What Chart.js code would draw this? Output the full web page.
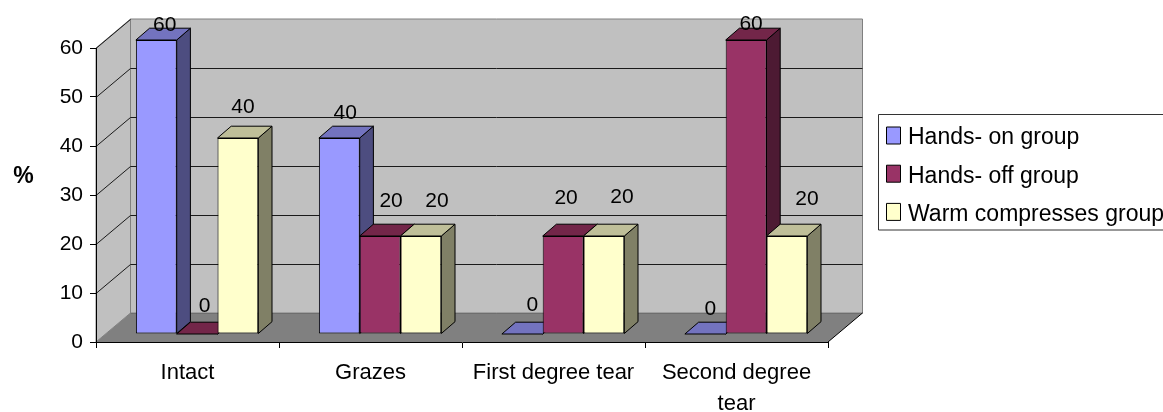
<!DOCTYPE html>
<html>
<head>
<meta charset="utf-8">
<style>
  html, body { margin: 0; padding: 0; background: #fff; overflow: hidden; }
  canvas { display: block; }
</style>
<script src="https://cdn.jsdelivr.net/npm/chart.js@4"></script>
</head>
<body>
<canvas id="tearChart" width="1163" height="412"></canvas>
<script>
const categories = ['Intact', 'Grazes', 'First degree tear', ['Second degree', 'tear']];
const seriesNames = ['Hands- on group', 'Hands- off group', 'Warm compresses group'];
const handsOn = [60, 40, 0, 0];
const handsOff = [0, 20, 20, 60];
const warmCompresses = [40, 20, 20, 20];
const yTicks = [0, 10, 20, 30, 40, 50, 60];

const FONT = '"Liberation Sans", Arial, sans-serif';

// front, side and top colours of each series
const faces = [
  { front: '#9999FF', side: '#4D4D80', top: '#7373BF' },
  { front: '#993366', side: '#4D1A33', top: '#732649' },
  { front: '#FFFFCC', side: '#808066', top: '#BFBF99' }
];

// the chart walls sit this far behind the axes, the bars part of the way
const wallDepth = { x: 34.5, y: -29 };
const barOffset = { x: 9.6, y: -8 };
const barDepth = { x: 13.7, y: -11.8 };

// the value labels were hand placed in the original, offset from each bar's centre and top
const labelNudge = [
  [[8.5, -15], [6, -25], [10, -29], [5, -25]],
  [[7.5, -28], [11, -35], [3, -38], [5, -16]],
  [[5, -31], [16, -35], [18, -39], [20, -37]]
];

function poly(ctx, pts, fill, stroke) {
  ctx.beginPath();
  pts.forEach((p, i) => i ? ctx.lineTo(p[0], p[1]) : ctx.moveTo(p[0], p[1]));
  ctx.closePath();
  if (fill) { ctx.fillStyle = fill; ctx.fill(); }
  if (stroke) { ctx.strokeStyle = stroke; ctx.lineWidth = 1; ctx.stroke(); }
}

const box3d = {
  id: 'box3d',
  // side walls, floor and gridlines go under everything
  beforeDraw(chart) {
    const { ctx, chartArea: a, scales } = chart;
    const dx = wallDepth.x, dy = wallDepth.y;
    ctx.save();
    poly(ctx, [[a.left + dx, a.top + dy], [a.right + dx, a.top + dy], [a.right + dx, a.bottom + dy], [a.left + dx, a.bottom + dy]], '#C0C0C0', '#808080');
    poly(ctx, [[a.left, a.top], [a.left + dx, a.top + dy], [a.left + dx, a.bottom + dy], [a.left, a.bottom]], '#C0C0C0', '#808080');
    poly(ctx, [[a.left, a.bottom], [a.left + dx, a.bottom + dy], [a.right + dx, a.bottom + dy], [a.right, a.bottom]], '#808080', null);
    ctx.strokeStyle = '#6E6E6E';
    ctx.beginPath();
    ctx.moveTo(a.left + dx, a.bottom + dy + 0.5);
    ctx.lineTo(a.right + dx, a.bottom + dy + 0.5);
    ctx.stroke();
    ctx.strokeStyle = '#000';
    ctx.beginPath();
    ctx.moveTo(a.right, a.bottom);
    ctx.lineTo(a.right + dx, a.bottom + dy);
    ctx.stroke();
    ctx.strokeStyle = '#1A1A1A';
    yTicks.forEach(v => {
      const y = Math.round(scales.y.getPixelForValue(v)) + 0.5;
      if (v === yTicks[0]) return;
      ctx.beginPath();
      ctx.moveTo(a.left, y);
      ctx.lineTo(a.left + dx, y + dy);
      if (v !== yTicks[yTicks.length - 1]) ctx.lineTo(a.right + dx, y + dy);
      ctx.stroke();
    });
    ctx.restore();
  },
  // chart.js paints the first dataset last, here the bars have to overlap left to right
  beforeDatasetsDraw(chart) {
    const { ctx } = chart;
    const dx = barDepth.x, dy = barDepth.y;
    ctx.save();
    ctx.translate(barOffset.x, barOffset.y);
    chart.getSortedVisibleDatasetMetas().forEach(meta => {
      const c = faces[meta.index];
      meta.controller.draw();
      meta.data.forEach(bar => {
        const l = bar.x - bar.width / 2, r = bar.x + bar.width / 2;
        poly(ctx, [[r, bar.y], [r + dx, bar.y + dy], [r + dx, bar.base + dy], [r, bar.base]], c.side, '#000');
        poly(ctx, [[l, bar.y], [l + dx, bar.y + dy], [r + dx, bar.y + dy], [r, bar.y]], c.top, '#000');
      });
    });
    ctx.restore();
    return false;
  },
  afterDraw(chart) {
    const { ctx } = chart;

    // value labels
    ctx.save();
    ctx.fillStyle = '#000';
    ctx.font = '21px ' + FONT;
    ctx.textAlign = 'center';
    ctx.textBaseline = 'middle';
    chart.data.datasets.forEach((ds, i) => {
      chart.getDatasetMeta(i).data.forEach((bar, j) => {
        const n = labelNudge[i][j];
        ctx.fillText(String(ds.data[j]), bar.x + barOffset.x + n[0], bar.y + barOffset.y + n[1]);
      });
    });

    // axis title
    ctx.font = 'bold 23px ' + FONT;
    ctx.fillText('%', 23.5, 177);

    // legend, runs off the right of the picture like the original
    poly(ctx, [[878.5, 114.5], [1170, 114.5], [1170, 230], [878.5, 230]], '#fff', '#333');
    ctx.font = '23px ' + FONT;
    ctx.textAlign = 'left';
    chart.data.datasets.forEach((ds, i) => {
      const cy = 135.5 + i * 38.2;
      poly(ctx, [[886.5, cy - 8.5], [900.5, cy - 8.5], [900.5, cy + 8.5], [886.5, cy + 8.5]], faces[i].front, '#000');
      ctx.fillStyle = '#000';
      ctx.fillText(ds.label, 908, cy + 2.5);
    });
    ctx.restore();
  }
};

const seriesValues = [handsOn, handsOff, warmCompresses];

new Chart(document.getElementById('tearChart').getContext('2d'), {
  type: 'bar',
  data: {
    labels: categories,
    datasets: seriesNames.map((name, i) => ({
      label: name,
      data: seriesValues[i],
      backgroundColor: faces[i].front,
      borderColor: '#000',
      borderWidth: 1,
      borderSkipped: false
    }))
  },
  options: {
    responsive: false,
    animation: false,
    layout: { padding: { top: 48, right: 335, left: 0, bottom: 0 } },
    datasets: { bar: { categoryPercentage: 0.669, barPercentage: 1 } },
    scales: {
      x: {
        afterFit: scale => { scale.height = 70; },
        grid: { drawOnChartArea: false, tickLength: 6, tickColor: '#000' },
        border: { color: '#000' },
        ticks: {
          color: '#000',
          padding: 9,
          maxRotation: 0,
          autoSkip: false,
          font: { family: FONT, size: 22, lineHeight: 1.41 }
        }
      },
      y: {
        min: 0,
        max: 60,
        afterFit: scale => { scale.width = 96; },
        grid: { drawOnChartArea: false, tickLength: 6, tickColor: '#000' },
        border: { color: '#000' },
        ticks: {
          color: '#000',
          stepSize: 10,
          padding: 7,
          font: { family: FONT, size: 21 }
        }
      }
    },
    plugins: {
      legend: { display: false },
      tooltip: { enabled: false }
    }
  },
  plugins: [box3d]
});
</script>
</body>
</html>
